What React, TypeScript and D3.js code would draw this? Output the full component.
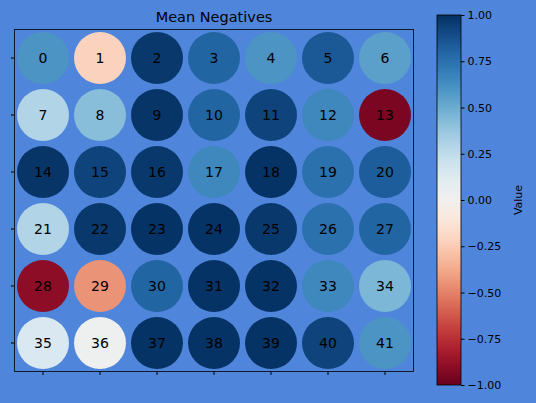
import { useEffect, useRef } from "react";
import * as d3 from "d3";

// Valeurs par cellule (6 lignes x 7 colonnes)
const rows = [0, 1, 2, 3, 4, 5];
const cols = [0, 1, 2, 3, 4, 5, 6];
const values = [
  [0.6, -0.22, 0.97, 0.8, 0.6, 0.85, 0.55],
  [0.3, 0.42, 0.98, 0.8, 0.93, 0.65, -0.95],
  [0.98, 0.93, 0.97, 0.65, 0.99, 0.75, 0.83],
  [0.3, 0.97, 0.99, 0.99, 0.97, 0.75, 0.8],
  [-0.9, -0.45, 0.8, 0.99, 0.99, 0.65, 0.45],
  [0.15, 0.03, 0.99, 0.99, 0.99, 0.93, 0.6],
];
const cbTicks = [1, 0.75, 0.5, 0.25, 0, -0.25, -0.5, -0.75, -1];

export default function App() {
  const svgRef = useRef<SVGSVGElement>(null);

  useEffect(() => {
    const svg = d3.select(svgRef.current!);
    svg.selectAll("*").remove();
    const W = 536, H = 403;
    svg.attr("width", W).attr("height", H).style("font-family", "DejaVu Sans");
    svg.append("rect").attr("width", W).attr("height", H).attr("fill", "#4f86db");

    const left = 14.5, right = 413.5, top = 29.5, bottom = 371.5;
    const x = d3.scaleBand<number>().domain(cols).range([left, right]);
    const y = d3.scaleBand<number>().domain(rows).range([top, bottom]);
    const color = (v: number) => d3.interpolateRdBu((v + 1) / 2);

    const cells = rows.flatMap((r) => cols.map((c) => ({ r, c, v: values[r][c], i: r * 7 + c })));
    const g = svg.append("g");
    g.selectAll("circle")
      .data(cells)
      .enter()
      .append("circle")
      .attr("cx", (d) => x(d.c)! + x.bandwidth() / 2)
      .attr("cy", (d) => y(d.r)! + y.bandwidth() / 2)
      .attr("r", 26)
      .attr("fill", (d) => color(d.v));
    g.selectAll("text")
      .data(cells)
      .enter()
      .append("text")
      .attr("x", (d) => x(d.c)! + x.bandwidth() / 2)
      .attr("y", (d) => y(d.r)! + y.bandwidth() / 2)
      .attr("text-anchor", "middle")
      .attr("dominant-baseline", "central")
      .style("font-size", "14px")
      .attr("fill", "black")
      .text((d) => d.i);

    // Axes sans libellés
    svg.append("g").attr("transform", `translate(${left},0)`)
      .call(d3.axisLeft(y).tickSize(3.5).tickFormat(() => "")).select(".domain").remove();
    svg.append("g").attr("transform", `translate(0,${bottom})`)
      .call(d3.axisBottom(x).tickSize(3.5).tickFormat(() => "")).select(".domain").remove();
    svg.append("rect").attr("x", left).attr("y", top).attr("width", right - left).attr("height", bottom - top)
      .attr("fill", "none").attr("stroke", "black").attr("stroke-width", 0.8);

    svg.append("text").attr("x", (left + right) / 2).attr("y", 22).attr("text-anchor", "middle")
      .style("font-size", "14.5px").text("Mean Negatives");

    // Barre de couleur
    const cbX = 437, cbW = 24, cbTop = 15, cbBot = 385;
    const cy = d3.scaleLinear().domain([-1, 1]).range([cbBot, cbTop]);
    const defs = svg.append("defs");
    const grad = defs.append("linearGradient").attr("id", "cb").attr("x1", 0).attr("x2", 0).attr("y1", 1).attr("y2", 0);
    d3.range(0, 1.001, 0.05).forEach((t) => grad.append("stop").attr("offset", t).attr("stop-color", d3.interpolateRdBu(t)));
    svg.append("rect").attr("x", cbX).attr("y", cbTop).attr("width", cbW).attr("height", cbBot - cbTop)
      .attr("fill", "url(#cb)").attr("stroke", "black").attr("stroke-width", 0.8);
    const ax = svg.append("g").attr("transform", `translate(${cbX + cbW},0)`)
      .call(d3.axisRight(cy).tickValues(cbTicks).tickSize(3.5).tickFormat(d3.format(".2f")));
    ax.select(".domain").remove();
    ax.selectAll("text").style("font-size", "11px").style("font-family", "DejaVu Sans");
    svg.append("text").attr("transform", `translate(522,${(cbTop + cbBot) / 2}) rotate(-90)`)
      .attr("text-anchor", "middle").style("font-size", "11px").text("Value");
  }, []);

  return <svg ref={svgRef} style={{ position: "absolute", left: 0, top: 0 }} />;
}
